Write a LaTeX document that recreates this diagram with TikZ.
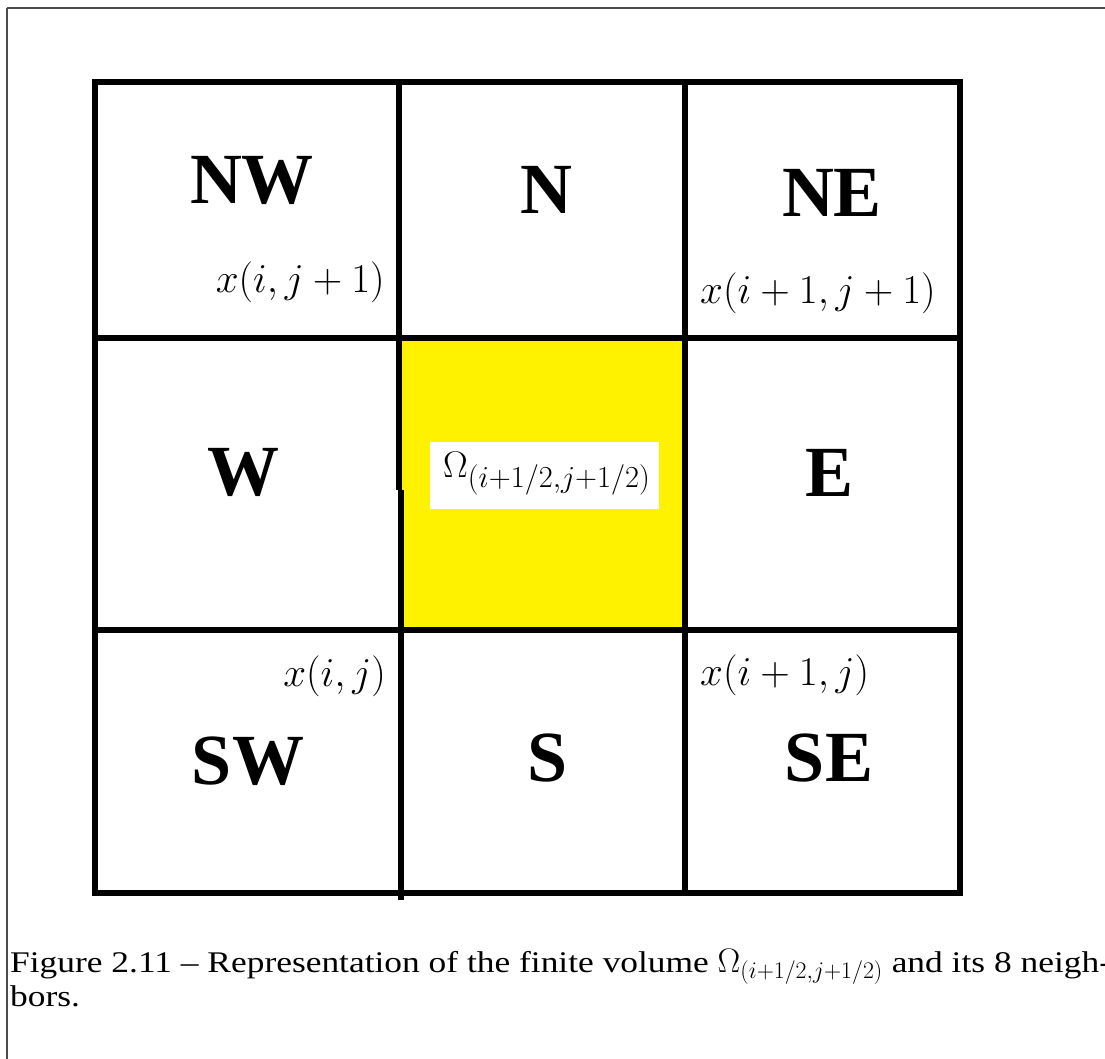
\RequirePackage{fix-cm}
\documentclass[tikz,border=0pt]{standalone}
\usepackage{fontspec}
\setmainfont{Liberation Serif}
\newfontfamily\cellfont{Liberation Serif}
\newfontfamily\captionfont{Liberation Serif}[FakeStretch=1.18,Ligatures=TeX]
% larger subscripts for the volume label
\DeclareMathSizes{37}{37}{30.5}{22}
\begin{document}
\begin{tikzpicture}[x=1pt,y=-1pt,
  gridline/.style={line width=6pt,black},
  framerule/.style={line width=1.5pt,black!70},
  celllabel/.style={inner sep=0pt,font=\cellfont\bfseries\fontsize{72}{72}\selectfont},
  pointlabel/.style={inner sep=0pt,font=\fontsize{41}{41}\selectfont},
  volumebox/.style={fill=white,inner sep=0pt,minimum width=229pt,minimum height=67pt},
  volumelabel/.style={inner sep=0pt,anchor=base west,font=\fontsize{37}{37}\selectfont},
  captiontext/.style={inner sep=0pt,anchor=base west,align=left,font=\captionfont\fontsize{30}{34}\selectfont}
]
\definecolor{cellyellow}{RGB}{255,242,0}
\useasboundingbox (0,0) rectangle (1105,1059);

% page frame (top and left edges)
\draw[framerule] (7,8) -- (1105,8);
\draw[framerule] (7,8) -- (7,1059);

% central control volume
\fill[cellyellow] (401,338) rectangle (685,630);

% grid of the 3x3 cells
\draw[gridline] (95,82) rectangle (960,893);
\draw[gridline] (92,338) -- (963,338);
\draw[gridline] (92,630) -- (963,630);
\draw[gridline] (399,82) -- (399,490);
\draw[gridline] (401,490) -- (401,900);
\draw[gridline] (685,82) -- (685,893);

% cell names
\node[celllabel] (nw) at (252,180) {NW};
\node[celllabel] (n)  at (546,190) {N};
\node[celllabel] (ne) at (832,193) {NE};
\node[celllabel] (w)  at (243,472) {W};
\node[celllabel] (e)  at (830,473) {E};
\node[celllabel] (sw) at (248,761) {SW};
\node[celllabel] (s)  at (548,758) {S};
\node[celllabel] (se) at (829,758) {SE};

% grid points
\node[pointlabel,anchor=base east] (pnw) at (385,292) {$x(i,j+1)$};
\node[pointlabel,anchor=base west] (pne) at (700,303) {$x(i+1,j+1)$};
\node[pointlabel,anchor=base east] (psw) at (386,686) {$x(i,j)$};
\node[pointlabel,anchor=base west] (pse) at (700,685) {$x(i+1,j)$};

% label of the control volume
\node[volumebox] (omegabox) at (544.5,475.5) {};
\node[volumelabel] (omega) at (443,477) {$\Omega_{(i+1/2,j+1/2)}$};

% caption
\node[captiontext] (cap) at (10,1006) {Figure 2.11 – Representation of the finite volume {\fontsize{34}{34}\selectfont$\Omega_{(i+1/2,j+1/2)}$} and its 8 neigh-\\bors.};
\end{tikzpicture}
\end{document}
